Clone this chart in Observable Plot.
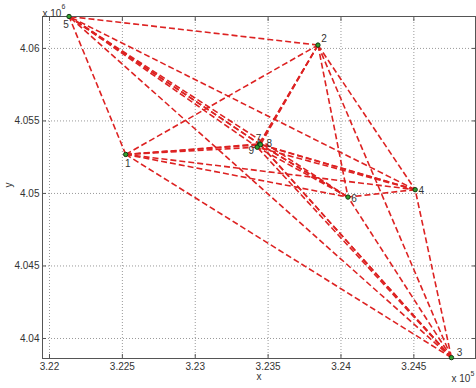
<!DOCTYPE html>
<html>
<head>
<meta charset="utf-8">
<script src="https://cdn.jsdelivr.net/npm/d3@7"></script>
<script src="https://cdn.jsdelivr.net/npm/@observablehq/plot@0.6"></script>
<style>
  html, body { margin: 0; padding: 0; background: #fff; }
  #chart svg { display: block; }
</style>
</head>
<body>
<div id="chart"></div>
<script>
// ---- data (x in units of 1e5, y in units of 1e6) ----
const nodeIds = [1, 2, 3, 4, 5, 6, 7, 8, 9];
const nodeX = [3.22523, 3.23842, 3.24758, 3.24509, 3.22134, 3.24048, 3.23442, 3.23447, 3.23425];
const nodeY = [4.05269, 4.06023, 4.03868, 4.05026, 4.06220, 4.04975, 4.05341, 4.05336, 4.05319];
const xTicks = [3.22, 3.225, 3.23, 3.235, 3.24, 3.245];
const yTicks = [4.04, 4.045, 4.05, 4.055, 4.06];
const xDomain = [3.21952, 3.24923];
const yDomain = [4.03862, 4.0622];

const nodes = nodeIds.map((id, i) => ({id, x: nodeX[i], y: nodeY[i]}));
const edges = [];
for (let i = 0; i < nodes.length; i++)
  for (let j = i + 1; j < nodes.length; j++)
    edges.push({a: nodes[i], b: nodes[j]});

// label offsets (style only)
const labelOffsets = {1: [2, 9], 2: [6, -6], 3: [8, -5], 4: [6, 1], 5: [-3, 8], 6: [6, 2], 7: [-1, -5], 8: [9, -1], 9: [-6, 4]};

const fmt = d3.format("~g");
const font = "Liberation Sans, Arial, sans-serif";

const labelMarks = nodes.map(n => Plot.text([n], {
  x: "x", y: "y", text: d => String(d.id),
  dx: labelOffsets[n.id][0], dy: labelOffsets[n.id][1],
  fill: "#333", fontSize: 10
}));

const chart = Plot.plot({
  width: 476,
  height: 388,
  marginLeft: 42,
  marginRight: 1,
  marginTop: 16,
  marginBottom: 30,
  style: {fontFamily: font, fontSize: "10px", color: "#333", background: "#fff"},
  x: {domain: xDomain, label: null},
  y: {domain: yDomain, label: null},
  marks: [
    Plot.gridX(xTicks, {stroke: "#999", strokeOpacity: 1, strokeDasharray: "1,2"}),
    Plot.gridY(yTicks, {stroke: "#999", strokeOpacity: 1, strokeDasharray: "1,2"}),
    Plot.link(edges, {
      x1: d => d.a.x, y1: d => d.a.y, x2: d => d.b.x, y2: d => d.b.y,
      stroke: "#dd2222", strokeWidth: 1.6, strokeDasharray: "6,3"
    }),
    Plot.frame({stroke: "#555", strokeWidth: 1}),
    Plot.axisX(xTicks, {anchor: "bottom", tickSize: -4, tickPadding: 8, tickFormat: fmt, fill: "#333", stroke: "#555"}),
    Plot.axisX(xTicks, {anchor: "top", tickSize: -4, tickFormat: () => "", stroke: "#555"}),
    Plot.axisY(yTicks, {anchor: "left", tickSize: -4, tickPadding: 7, tickFormat: fmt, fill: "#333", stroke: "#555"}),
    Plot.axisY(yTicks, {anchor: "right", tickSize: -4, tickFormat: () => "", stroke: "#555"}),
    Plot.dot(nodes, {x: "x", y: "y", r: 2.2, fill: "#2fa02f", stroke: "#143814", strokeWidth: 1}),
    ...labelMarks,
    Plot.text(["x"], {frameAnchor: "bottom", dy: 21, fill: "#333", fontSize: 10}),
    Plot.text(["y"], {frameAnchor: "left", dx: -34, rotate: -90, fill: "#333", fontSize: 10}),
    Plot.text(["x 10"], {frameAnchor: "top-left", textAnchor: "start", dy: -7, fill: "#333", fontSize: 10}),
    Plot.text(["6"], {frameAnchor: "top-left", textAnchor: "start", dx: 19, dy: -12, fill: "#333", fontSize: 7}),
    Plot.text(["x 10"], {frameAnchor: "bottom-right", textAnchor: "start", dx: -24, dy: 23, fill: "#333", fontSize: 10}),
    Plot.text(["5"], {frameAnchor: "bottom-right", textAnchor: "start", dx: -5, dy: 17, fill: "#333", fontSize: 7})
  ]
});
document.getElementById("chart").appendChild(chart);
</script>
</body>
</html>
